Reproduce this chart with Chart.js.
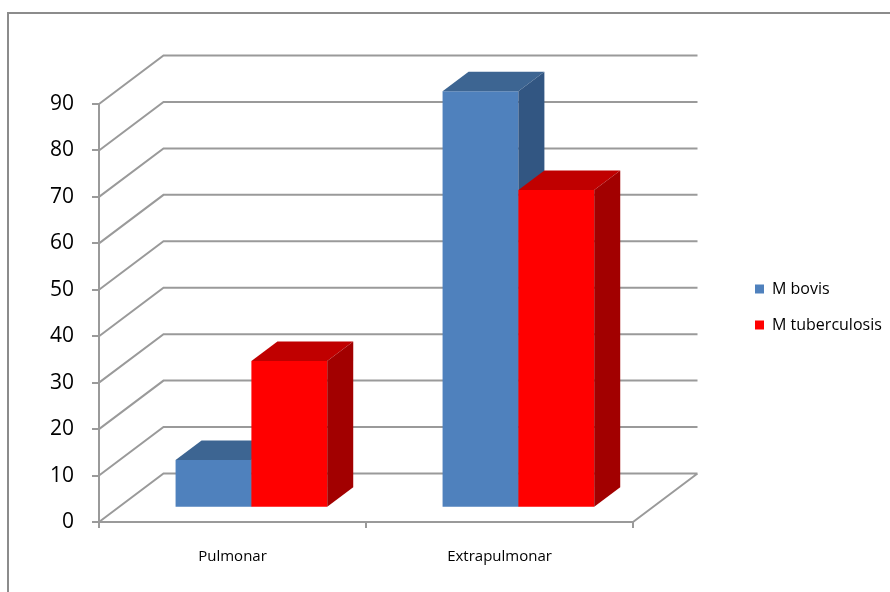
<!DOCTYPE html>
<html>
<head>
<meta charset="utf-8">
<script src="https://cdn.jsdelivr.net/npm/chart.js@4.4.1/dist/chart.umd.min.js"></script>
<style>
  html, body { margin: 0; padding: 0; background: #fff; }
</style>
</head>
<body>
<canvas id="myChart" width="890" height="592"></canvas>
<script>
var categories = ["Pulmonar", "Extrapulmonar"];
var bovisValues = [10.3, 89.7];
var tuberculosisValues = [31.6, 68.4];
var yTicks = [0, 10, 20, 30, 40, 50, 60, 70, 80, 90];

var GRID = "#9a9a9a";
// 3d look: back wall offset, bar plane offset, bar depth
var wallDx = 64.5, wallDy = -48.5;
var barShiftX = 18.9, barShiftY = -14.2;
var barDx = 26, barDy = -19.5;
var legendShiftY = -6;

var faceColors = [
  { top: "#3d6592", side: "#325682" },
  { top: "#c00000", side: "#a20000" }
];

Chart.defaults.font.family = "'Open Sans', sans-serif";
Chart.defaults.color = "#000";

var threeD = {
  id: "threeD",
  afterLayout: function (chart) {
    chart.legend.top += legendShiftY;
    chart.legend.bottom += legendShiftY;
  },
  beforeDraw: function (chart) {
    var ctx = chart.ctx;
    ctx.save();
    ctx.strokeStyle = "#8c8c8c";
    ctx.lineWidth = 2;
    ctx.strokeRect(8, 13, 900, 600);
    ctx.restore();
  },
  beforeDatasetsDraw: function (chart) {
    var ctx = chart.ctx;
    var x = chart.scales.x, y = chart.scales.y;
    var left = x.left, right = x.right;
    ctx.save();
    ctx.strokeStyle = GRID;
    ctx.lineWidth = 2;
    ctx.beginPath();
    yTicks.forEach(function (v) {
      var py = y.getPixelForValue(v);
      ctx.moveTo(left, py);
      ctx.lineTo(left + wallDx, py + wallDy);
      ctx.lineTo(right + wallDx, py + wallDy);
    });
    var py0 = y.getPixelForValue(0);
    ctx.moveTo(right, py0);
    ctx.lineTo(right + wallDx, py0 + wallDy);
    ctx.stroke();
    ctx.restore();
  },
  // bars are drawn below, in front-to-back order with their 3d faces
  beforeDatasetDraw: function () {
    return false;
  },
  afterDatasetsDraw: function (chart) {
    var ctx = chart.ctx;
    ctx.save();
    ctx.translate(barShiftX, barShiftY);
    for (var i = 0; i < categories.length; i++) {
      chart.data.datasets.forEach(function (ds, d) {
        var bar = chart.getDatasetMeta(d).data[i];
        var c = faceColors[d];
        var l = bar.x - bar.width / 2, r = bar.x + bar.width / 2;
        var t = bar.y, b = bar.base;
        bar.draw(ctx);
        ctx.fillStyle = c.top;
        ctx.beginPath();
        ctx.moveTo(l, t);
        ctx.lineTo(r, t);
        ctx.lineTo(r + barDx, t + barDy);
        ctx.lineTo(l + barDx, t + barDy);
        ctx.closePath();
        ctx.fill();
        ctx.fillStyle = c.side;
        ctx.beginPath();
        ctx.moveTo(r, t);
        ctx.lineTo(r + barDx, t + barDy);
        ctx.lineTo(r + barDx, b + barDy);
        ctx.lineTo(r, b);
        ctx.closePath();
        ctx.fill();
      });
    }
    ctx.restore();
  }
};

var data = {
  labels: categories,
  datasets: [
    {
      label: "M bovis",
      data: bovisValues,
      backgroundColor: "#4f81bd"
    },
    {
      label: "M tuberculosis",
      data: tuberculosisValues,
      backgroundColor: "#ff0000"
    }
  ]
};

var config = {
  type: "bar",
  data: data,
  options: {
    responsive: false,
    animation: false,
    layout: { padding: { top: 104, left: 0, right: 8, bottom: 0 } },
    datasets: {
      bar: { categoryPercentage: 0.568, barPercentage: 1, borderWidth: 0 }
    },
    scales: {
      x: {
        grid: { drawOnChartArea: false, drawTicks: true, tickLength: 6, color: GRID, lineWidth: 2 },
        border: { display: true, color: GRID, width: 2 },
        ticks: { font: { size: 15 }, padding: 20 },
        afterFit: function (s) { s.height = 70; }
      },
      y: {
        min: 0,
        max: 90,
        ticks: { stepSize: 10, font: { size: 21 }, padding: 18 },
        grid: { drawOnChartArea: false, drawTicks: true, tickLength: 7, color: GRID, lineWidth: 2 },
        border: { display: true, color: GRID, width: 2 },
        afterFit: function (s) { s.width = 99; }
      },
      gap: {
        type: "linear",
        position: "right",
        grid: { display: false },
        ticks: { display: false },
        border: { display: false },
        afterFit: function (s) { s.width = 102; }
      }
    },
    plugins: {
      legend: {
        position: "right",
        fullSize: false,
        labels: {
          boxWidth: 9,
          boxHeight: 9,
          padding: 20,
          font: { size: 16 }
        }
      },
      tooltip: { enabled: false }
    }
  },
  plugins: [threeD]
};

var myChart = document.getElementById("myChart").getContext("2d");

var chart1 = new Chart(myChart, config);
</script>
</body>
</html>
